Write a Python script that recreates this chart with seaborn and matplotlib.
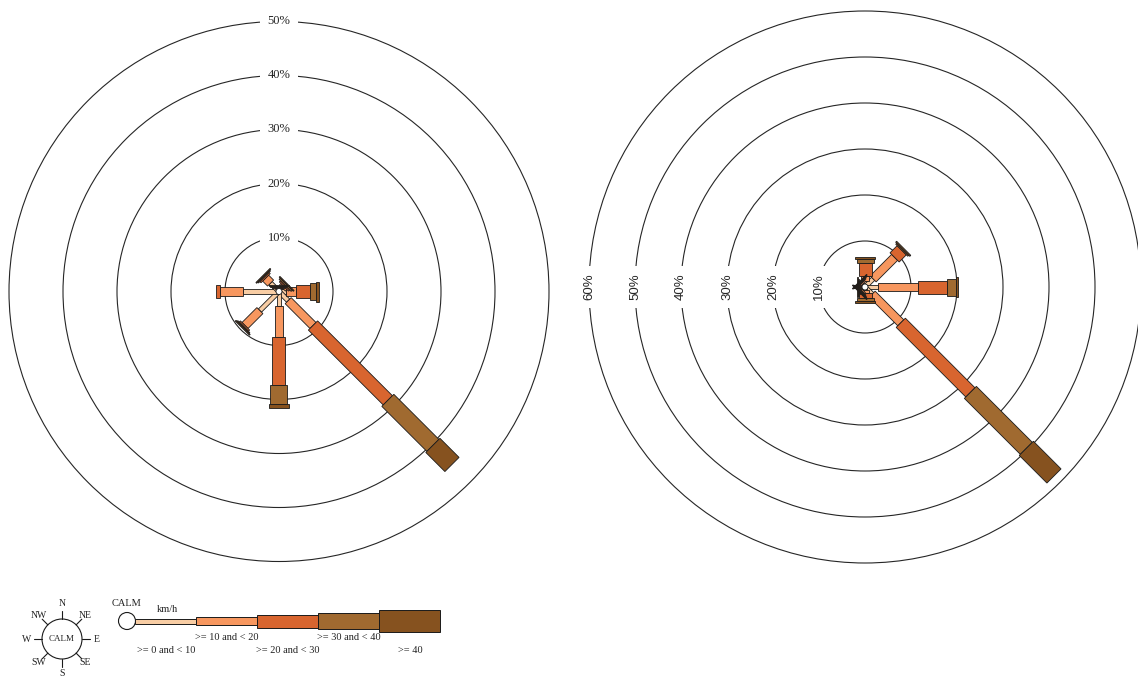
import numpy as np
import pandas as pd
import matplotlib
matplotlib.use("Agg")
import matplotlib.pyplot as plt
from matplotlib.patches import Polygon, Circle
import seaborn as sns

# ---- data -------------------------------------------------------------
directions = ["N", "NE", "E", "SE", "S", "SW", "W", "NW"]
speed_bins = [">= 0 and < 10", ">= 10 and < 20", ">= 20 and < 30",
              ">= 30 and < 40", ">= 40"]

# frequency (%) per direction, one list per speed class — first station
site_a_0_10 = [0.5, 0.9, 1.3, 2.4, 2.7, 5.0, 6.7, 2.2]
site_a_10_20 = [0.2, 0.4, 1.9, 6.5, 5.8, 3.9, 4.3, 1.3]
site_a_20_30 = [0.2, 0.3, 2.5, 19.6, 8.9, 0.3, 0.7, 0.3]
site_a_30_40 = [0.2, 0.3, 1.2, 11.8, 3.5, 0.2, 0.0, 0.2]
site_a_40 = [0.1, 0.2, 0.6, 5.0, 0.6, 0.2, 0.0, 0.2]

# second station
site_b_0_10 = [1.2, 2.5, 2.8, 2.2, 0.7, 0.8, 0.8, 0.8]
site_b_10_20 = [1.1, 6.6, 8.8, 8.8, 0.6, 0.3, 0.3, 0.3]
site_b_20_30 = [2.9, 2.2, 6.2, 21.4, 1.1, 0.2, 0.2, 0.2]
site_b_30_40 = [0.9, 0.3, 2.0, 17.2, 0.6, 0.2, 0.2, 0.2]
site_b_40 = [0.5, 0.3, 0.5, 8.5, 0.5, 0.2, 0.2, 0.2]

site_a_rings = [10, 20, 30, 40, 50]
site_b_rings = [10, 20, 30, 40, 50, 60]

compass_labels = ["N", "NE", "E", "SE", "S", "SW", "W", "NW"]
unit_label = "km/h"
calm_label = "CALM"

# ---- tidy table -------------------------------------------------------
def to_long(site, columns):
    rows = []
    for b, vals in zip(speed_bins, columns):
        for d, v in zip(directions, vals):
            rows.append({"site": site, "direction": d, "bin": b, "pct": v})
    return rows

df = pd.DataFrame(
    to_long("A", [site_a_0_10, site_a_10_20, site_a_20_30, site_a_30_40, site_a_40])
    + to_long("B", [site_b_0_10, site_b_10_20, site_b_20_30, site_b_30_40, site_b_40])
)

# ---- style ------------------------------------------------------------
sns.set_theme(style="white")
palette = sns.color_palette(["#F8CDA4", "#F7975F", "#D8652F", "#A06A30", "#86521F"])
bin_color = dict(zip(speed_bins, palette))
bar_px = dict(zip(speed_bins, [4.5, 8.5, 13, 17, 20]))   # bar thickness, pixels
legend_px = dict(zip(speed_bins, [5, 8, 13, 16, 22]))    # legend thickness, pixels

W, H = 1138, 679
fig = plt.figure(figsize=(W / 100, H / 100), dpi=100)
fig.patch.set_facecolor("white")

SERIF = ["Liberation Serif", "DejaVu Serif"]
SANS = ["Liberation Sans", "DejaVu Sans"]
RING_COLOR = "#262626"
EDGE = "#1a1a1a"


def rose_axes(cx, cy, px_per_pct, extent):
    half = extent * px_per_pct
    ax = fig.add_axes([(cx - half) / W, (H - cy - half) / H, 2 * half / W, 2 * half / H])
    ax.set_xlim(-extent, extent)
    ax.set_ylim(-extent, extent)
    ax.axis("off")
    return ax


def draw_bars(ax, data, px_per_pct):
    for k, d in enumerate(directions):
        theta = np.deg2rad(90 - 45 * k)
        u = np.array([np.cos(theta), np.sin(theta)])
        v = np.array([-np.sin(theta), np.cos(theta)])
        sub = data[data["direction"] == d].set_index("bin").loc[speed_bins]
        r0 = 0.0
        for j, b in enumerate(speed_bins):
            val = sub.loc[b, "pct"]
            if val <= 0:
                continue
            r1 = r0 + val
            hw = bar_px[b] / 2 / px_per_pct
            pts = [r0 * u + hw * v, r1 * u + hw * v, r1 * u - hw * v, r0 * u - hw * v]
            ax.add_patch(Polygon(pts, closed=True, facecolor=bin_color[b],
                                 edgecolor=EDGE, linewidth=0.6, zorder=3 + j))
            r0 = r1
    ax.add_patch(Circle((0, 0), 3 / px_per_pct, facecolor="white",
                        edgecolor=EDGE, linewidth=0.6, zorder=10))


def draw_rings(ax, rings):
    for r in rings:
        ax.add_patch(Circle((0, 0), r, fill=False, edgecolor=RING_COLOR,
                            linewidth=0.8, zorder=1))


# ---- first rose -------------------------------------------------------
PX_A = 5.4
ax_a = rose_axes(279, 291.5, PX_A, 51.8)
draw_rings(ax_a, site_a_rings)
for r in site_a_rings:
    ax_a.text(0, r, f"{r}%", ha="center", va="center", fontsize=9,
              family=SERIF, color=RING_COLOR, zorder=2,
              bbox=dict(boxstyle="square,pad=0.6", fc="white", ec="none"))
draw_bars(ax_a, df[df["site"] == "A"], PX_A)

# ---- second rose ------------------------------------------------------
PX_B = 4.6
ax_b = rose_axes(865, 287, PX_B, 61.5)
draw_rings(ax_b, site_b_rings)
for r in site_b_rings:
    ax_b.text(-r, 0, f"{r}%", ha="center", va="center", fontsize=9.5,
              rotation=90, family=SANS, color=RING_COLOR, zorder=2,
              bbox=dict(boxstyle="square,pad=0.55", fc="white", ec="none"))
draw_bars(ax_b, df[df["site"] == "B"], PX_B)

# ---- legend (pixel coordinates) ---------------------------------------
lg = fig.add_axes([0, 0, 1, 1], zorder=-1)
lg.set_xlim(0, W)
lg.set_ylim(H, 0)
lg.axis("off")

# compass key
ccx, ccy, cr = 62, 639, 20
lg.add_patch(Circle((ccx, ccy), cr, fill=False, edgecolor=EDGE, linewidth=0.8))
lg.text(ccx, ccy, calm_label, ha="center", va="center", fontsize=6.5,
        family=SERIF, color="#222")
for k, lab in enumerate(compass_labels):
    theta = np.deg2rad(90 - 45 * k)
    ux, uy = np.cos(theta), -np.sin(theta)
    lg.plot([ccx + cr * ux, ccx + (cr + 8) * ux], [ccy + cr * uy, ccy + (cr + 8) * uy],
            color=EDGE, linewidth=0.8)
    rl = 35 if k % 2 == 0 else 33
    lg.text(ccx + rl * ux, ccy + rl * uy, lab, ha="center", va="center",
            fontsize=7, family=SERIF, color="#222")

# speed scale
by = 621
lg.add_patch(Circle((127, by), 8.5, facecolor="white", edgecolor=EDGE, linewidth=0.8))
lg.text(127, 604, calm_label, ha="center", va="center", fontsize=7.5, family=SERIF, color="#222")
lg.text(167, 609, unit_label, ha="center", va="center", fontsize=7.5, family=SERIF, color="#222")
x0, seg = 135.5, 61
label_y = [650.5, 638, 650.5, 638, 650.5]
for j, b in enumerate(speed_bins):
    h = legend_px[b]
    xa = x0 + j * seg
    lg.add_patch(Polygon([(xa, by - h / 2), (xa + seg, by - h / 2),
                          (xa + seg, by + h / 2), (xa, by + h / 2)],
                         closed=True, facecolor=bin_color[b], edgecolor=EDGE,
                         linewidth=0.7))
    lg.text(xa + seg / 2, label_y[j], b, ha="center", va="center",
            fontsize=7.5, family=SERIF, color="#222")

fig.savefig("out.png", dpi=100, facecolor="white")
